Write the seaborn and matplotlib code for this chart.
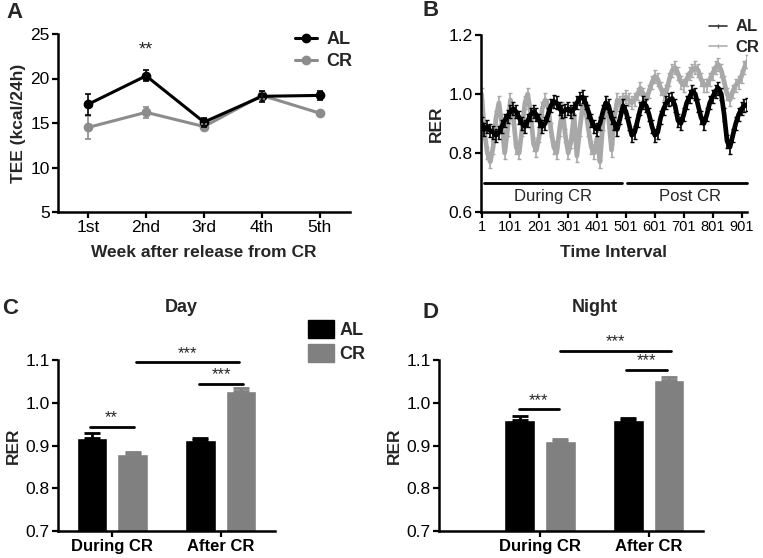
import numpy as np
import pandas as pd
import matplotlib
matplotlib.use("Agg")
import matplotlib.pyplot as plt
from matplotlib.lines import Line2D
from matplotlib.patches import Patch
import seaborn as sns

sns.set_theme(style="ticks")
plt.rcParams['font.family'] = ['Liberation Sans', 'DejaVu Sans']

# ---------------- data ----------------
# Panel A
weeks = ["1st", "2nd", "3rd", "4th", "5th"]
tee_al = [17.1, 20.3, 15.1, 18.0, 18.1]
tee_al_sem = [1.2, 0.6, 0.5, 0.6, 0.5]
tee_cr = [14.5, 16.2, 14.6, 18.1, 16.1]
tee_cr_sem = [1.3, 0.6, 0.3, 0.4, 0.2]

# Panel B (values read every 10 intervals, starting at interval 1)
rer_al_ts = [0.90, 0.88, 0.89, 0.875, 0.87, 0.86, 0.87, 0.89, 0.91, 0.925,
             0.94, 0.95, 0.94, 0.92, 0.90, 0.89, 0.91, 0.93, 0.94, 0.93,
             0.91, 0.89, 0.90, 0.93, 0.96, 0.975, 0.97, 0.95, 0.94, 0.945,
             0.95, 0.94, 0.95, 0.97, 0.985, 0.99, 0.97, 0.94, 0.91, 0.89,
             0.88, 0.90, 0.94, 0.97, 0.96, 0.92, 0.90, 0.88, 0.92, 0.96,
             0.94, 0.90, 0.86, 0.87, 0.91, 0.95, 0.97, 0.96, 0.93, 0.89,
             0.86, 0.87, 0.92, 0.95, 0.97, 0.98, 0.985, 0.96, 0.91, 0.90,
             0.93, 0.97, 0.99, 1.01, 1.00, 0.96, 0.92, 0.90, 0.93, 0.97,
             0.99, 1.01, 1.02, 1.00, 0.93, 0.84, 0.82, 0.86, 0.90, 0.93,
             0.95, 0.96, 0.965]
rer_cr_ts = [1.00, 0.87, 0.80, 0.77, 0.82, 0.92, 0.97, 0.90, 0.80, 0.88,
             0.98, 0.92, 0.82, 0.80, 0.88, 0.97, 1.00, 0.93, 0.83, 0.81,
             0.86, 0.95, 0.98, 0.96, 0.88, 0.82, 0.80, 0.88, 0.95, 0.86,
             0.80, 0.84, 0.93, 0.79, 0.88, 0.96, 0.95, 0.88, 0.82, 0.80,
             0.85, 0.77, 0.90, 0.97, 0.92, 0.81, 0.92, 0.98, 0.97, 0.98,
             0.99, 0.98, 0.97, 0.98, 1.00, 1.02, 1.00, 0.98, 1.01, 1.04,
             1.06, 1.05, 1.02, 1.00, 1.01, 1.05, 1.08, 1.09, 1.07, 1.04,
             1.03, 1.05, 1.07, 1.08, 1.09, 1.08, 1.05, 1.03, 1.03, 1.05,
             1.07, 1.09, 1.10, 1.08, 1.04, 1.00, 0.98, 1.01, 1.03, 1.04,
             1.06, 1.09, 1.11]
rer_ts_sem = 0.022
interval_ticks = [1, 101, 201, 301, 401, 501, 601, 701, 801, 901]

# Panels C / D
phases = ["During CR", "After CR"]
groups = ["AL", "CR"]
day_al = [0.917, 0.912]
day_al_sem = [0.012, 0.005]
day_cr = [0.880, 1.027]
day_cr_sem = [0.004, 0.007]
night_al = [0.960, 0.960]
night_al_sem = [0.008, 0.005]
night_cr = [0.910, 1.053]
night_cr_sem = [0.006, 0.008]

BLACK = "#000000"
GREY_LINE = "#8c8c8c"
GREY_TS = "#a8a8a8"
GREY_BAR = "#808080"

TICK_FS = 12.5
LABEL_FS = 12.5

W, H = 763, 558
fig = plt.figure(figsize=(W / 100, H / 100), dpi=100)


def axes_px(x0, y0, x1, y1):
    return fig.add_axes([x0 / W, 1 - y1 / H, (x1 - x0) / W, (y1 - y0) / H])


def fx(x):
    return x / W


def fy(y):
    return 1 - y / H


def style_axis(ax):
    for s in ["top", "right"]:
        ax.spines[s].set_visible(False)
    for s in ["left", "bottom"]:
        ax.spines[s].set_linewidth(1.8)
        ax.spines[s].set_color("black")
    ax.tick_params(axis="both", width=1.6, length=4, direction="out",
                   labelsize=TICK_FS, colors="black", pad=2)


# ---------------- Panel A ----------------
axA = axes_px(58, 34, 350, 212)
dfA = pd.DataFrame({
    "week": list(range(5)) * 2,
    "TEE": tee_al + tee_cr,
    "group": ["AL"] * 5 + ["CR"] * 5,
})
sns.lineplot(data=dfA, x="week", y="TEE", hue="group",
             palette={"AL": BLACK, "CR": GREY_LINE}, hue_order=["CR", "AL"],
             marker="o", markersize=7, markeredgewidth=0, linewidth=2.2,
             ax=axA, legend=False)
axA.errorbar(range(5), tee_cr, yerr=tee_cr_sem, fmt="none", ecolor=GREY_LINE,
             elinewidth=1.2, capsize=2.5, capthick=1.2)
axA.errorbar(range(5), tee_al, yerr=tee_al_sem, fmt="none", ecolor=BLACK,
             elinewidth=1.2, capsize=2.5, capthick=1.2)
axA.set_xlim(-0.52, 4.52)
axA.set_ylim(5, 25)
axA.set_yticks([5, 10, 15, 20, 25])
axA.set_xticks(range(5))
axA.set_xticklabels(weeks)
style_axis(axA)
axA.set_xlabel("Week after release from CR", fontsize=LABEL_FS, fontweight="bold", labelpad=7)
axA.set_ylabel("TEE (kcal/24h)", fontsize=LABEL_FS, fontweight="bold", labelpad=3)
axA.text(1, 20.3 + 1.9, "**", ha="center", va="bottom", fontsize=13)
hA = [Line2D([0], [0], color=BLACK, lw=2.2, marker="o", markersize=6),
      Line2D([0], [0], color=GREY_LINE, lw=2.2, marker="o", markersize=6)]
fig.legend(hA, ["AL", "CR"], loc="upper left", bbox_to_anchor=(fx(286), fy(22)),
           bbox_transform=fig.transFigure, frameon=False, borderpad=0,
           prop={"weight": "bold", "size": 13},
           handlelength=1.2, handletextpad=0.55, labelspacing=0.3)

# ---------------- Panel B ----------------
axB = axes_px(481, 35, 747, 212)
intervals = list(range(1, 10 * len(rer_al_ts) + 1, 10))
dfB = pd.DataFrame({
    "interval": intervals * 2,
    "RER": rer_cr_ts + rer_al_ts,
    "group": ["CR"] * len(rer_cr_ts) + ["AL"] * len(rer_al_ts),
})
sns.lineplot(data=dfB[dfB.group == "CR"], x="interval", y="RER", color=GREY_TS,
             linewidth=3.4, ax=axB, legend=False)
axB.errorbar(intervals, rer_cr_ts, yerr=rer_ts_sem, fmt="none", ecolor=GREY_TS,
             elinewidth=1.2, capsize=1.6, capthick=1.0)
sns.lineplot(data=dfB[dfB.group == "AL"], x="interval", y="RER", color=BLACK,
             linewidth=3.4, ax=axB, legend=False)
axB.errorbar(intervals, rer_al_ts, yerr=rer_ts_sem, fmt="none", ecolor=BLACK,
             elinewidth=1.2, capsize=1.6, capthick=1.0)
axB.set_xlim(-1, 920)
axB.set_ylim(0.6, 1.2)
axB.set_yticks([0.6, 0.8, 1.0, 1.2])
axB.set_yticklabels(["0.6", "0.8", "1.0", "1.2"])
axB.set_xticks(interval_ticks)
style_axis(axB)
axB.tick_params(axis="x", labelsize=10.5)
axB.set_xlabel("Time Interval", fontsize=LABEL_FS, fontweight="bold", labelpad=8)
axB.set_ylabel("RER", fontsize=LABEL_FS, fontweight="bold", labelpad=3)
axB.plot([8, 487], [0.70, 0.70], color="black", lw=2.0)
axB.plot([504, 920], [0.70, 0.70], color="black", lw=2.0, clip_on=False)
axB.text(248, 0.652, "During CR", ha="center", va="center", fontsize=12)
axB.text(722, 0.652, "Post CR", ha="center", va="center", fontsize=12)
hB = [Line2D([0], [0], color="#333333", lw=1.2, marker="|", markersize=3),
      Line2D([0], [0], color="#b0b0b0", lw=1.2, marker="|", markersize=3)]
fig.legend(hB, ["AL", "CR"], loc="upper left", bbox_to_anchor=(fx(701), fy(11)),
           bbox_transform=fig.transFigure, frameon=False, borderpad=0,
           prop={"weight": "bold", "size": 12},
           handlelength=1.05, handletextpad=0.5, labelspacing=0.35)


# ---------------- Panels C / D ----------------
def bar_panel(ax, al, al_sem, cr, cr_sem, xlim):
    df = pd.DataFrame({
        "phase": phases * 2,
        "RER": al + cr,
        "group": ["AL"] * 2 + ["CR"] * 2,
    })
    sns.barplot(data=df, x="phase", y="RER", hue="group", order=phases,
                hue_order=groups, palette={"AL": BLACK, "CR": GREY_BAR},
                width=0.75, gap=0.25, errorbar=None, ax=ax, legend=False,
                saturation=1)
    sems = al_sem + cr_sem
    vals = al + cr
    bars = ax.patches[:4]
    for p, v, e, c in zip(bars, vals, sems, [BLACK, BLACK, GREY_BAR, GREY_BAR]):
        xc = p.get_x() + p.get_width() / 2
        ax.errorbar([xc], [v], yerr=[[0], [e]], fmt="none", ecolor=c,
                    elinewidth=2.0, capsize=6, capthick=2.0)
    ax.set_xlim(*xlim)
    ax.set_ylim(0.7, 1.1)
    ax.set_yticks([0.7, 0.8, 0.9, 1.0, 1.1])
    ax.set_yticklabels(["0.7", "0.8", "0.9", "1.0", "1.1"])
    style_axis(ax)
    ax.tick_params(axis="x", labelsize=12)
    for t in ax.get_xticklabels():
        t.set_fontweight("bold")
    ax.set_xlabel("")
    ax.set_ylabel("RER", fontsize=LABEL_FS, fontweight="bold", labelpad=3)
    centers = [p.get_x() + p.get_width() / 2 for p in bars]
    return centers


def sig(ax, x0, x1, y, txt):
    ax.plot([x0, x1], [y, y], color="black", lw=2.0, clip_on=False)
    ax.text((x0 + x1) / 2, y + 0.003, txt, ha="center", va="bottom",
            fontsize=12, clip_on=False)


axC = axes_px(58, 360, 275, 531)
cC = bar_panel(axC, day_al, day_al_sem, day_cr, day_cr_sem, (-0.5, 1.5))
sig(axC, cC[0] - 0.02, cC[2] + 0.01, 0.944, "**")
sig(axC, cC[2] + 0.03, cC[3] - 0.02, 1.095, "***")
sig(axC, cC[1] - 0.01, cC[3] + 0.02, 1.045, "***")
hC = [Patch(facecolor=BLACK, edgecolor=BLACK), Patch(facecolor=GREY_BAR, edgecolor=GREY_BAR)]
fig.legend(hC, ["AL", "CR"], loc="upper left", bbox_to_anchor=(fx(299), fy(311)),
           bbox_transform=fig.transFigure, frameon=False, borderpad=0,
           prop={"weight": "bold", "size": 13},
           handlelength=1.45, handleheight=1.15, handletextpad=0.3, labelspacing=0.25)
fig.text(fx(181), fy(308), "Day", ha="center", va="center", fontsize=13, fontweight="bold")

axD = axes_px(439, 360, 703, 531)
cD = bar_panel(axD, night_al, night_al_sem, night_cr, night_cr_sem, (-0.93, 1.5))
sig(axD, cD[0] - 0.01, cD[2] - 0.01, 0.985, "***")
sig(axD, cD[2] + 0.0, cD[3] + 0.02, 1.122, "***")
sig(axD, cD[1] - 0.02, cD[3] - 0.02, 1.077, "***")
fig.text(fx(595), fy(308), "Night", ha="center", va="center", fontsize=13, fontweight="bold")

# panel letters
for lbl, x, y in [("A", 6, 12), ("B", 423, 10), ("C", 2, 308), ("D", 423, 312)]:
    fig.text(fx(x), fy(y), lbl, fontsize=16, fontweight="bold", va="center", ha="left")

fig.savefig("out.png", dpi=100)
